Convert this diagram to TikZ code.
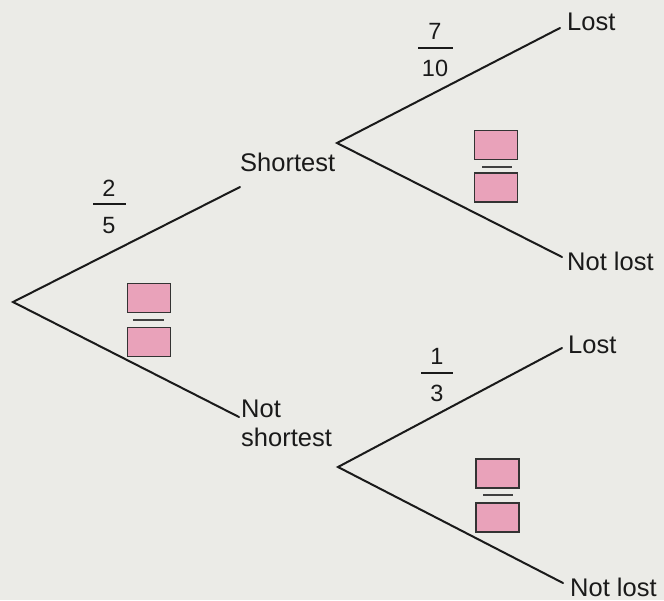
\documentclass[tikz,border=0pt]{standalone}
\usepackage{fontspec}
\setmainfont{Liberation Sans}
\definecolor{paper}{HTML}{EBEBE7}
\definecolor{ink}{HTML}{1A1A1A}
\definecolor{answerpink}{HTML}{E9A2BA}
\begin{document}
\begin{tikzpicture}[x=1pt,y=-1pt,
  branch/.style={draw=ink, line width=2pt, line cap=round},
  lbl/.style={inner sep=0pt, anchor=base west, text=ink,
              font=\fontsize{25.5}{29}\selectfont},
  digit/.style={inner sep=0pt, text=ink, font=\fontsize{23.5}{26}\selectfont},
  fracbar/.style={draw=ink, line width=2pt},
  ansbox/.style={draw=black!80, line width=1.8pt, fill=answerpink,
                 minimum width=43pt, minimum height=29pt, inner sep=0pt},
  ansbar/.style={draw=black!75, line width=2.2pt}]

% paper background and page size
\fill[paper] (0,0) rectangle (664,600);
\useasboundingbox (0,0) rectangle (664,600);

% branch points and free ends of the branches
\coordinate (root) at (13,302);
\coordinate (sEnd) at (240,187);
\coordinate (nsEnd) at (239,417);
\coordinate (sFork) at (337,143);
\coordinate (nsFork) at (338,467);
\coordinate (sLostEnd) at (560,28);
\coordinate (sNotEnd) at (562,257);
\coordinate (nsLostEnd) at (562,348);
\coordinate (nsNotEnd) at (563,583);

% first stage
\draw[branch] (sEnd) -- (root) -- (nsEnd);
% second stage
\draw[branch] (sLostEnd) -- (sFork) -- (sNotEnd);
\draw[branch] (nsLostEnd) -- (nsFork) -- (nsNotEnd);

% outcome labels
\node[lbl] (shortest) at (240,171) {Shortest};
\node[lbl] (notA) at (241,417) {Not};
\node[lbl] (notB) at (241,446) {shortest};
\node[lbl] (lost1) at (567,30) {Lost};
\node[lbl] (notlost1) at (567,270) {Not lost};
\node[lbl] (lost2) at (568,353) {Lost};
\node[lbl] (notlost2) at (570,596) {Not lost};

% given probabilities
\node[digit] (p25n) at (109,188.5) {2};
\draw[fracbar] (93,204) -- (126,204);
\node[digit] (p25d) at (109,226) {5};

\node[digit] (p710n) at (435,31.5) {7};
\draw[fracbar] (418,48) -- (453,48);
\node[digit] (p710d) at (435,68) {10};

\node[digit] (p13n) at (437,356.5) {1};
\draw[fracbar] (421,373) -- (453,373);
\node[digit] (p13d) at (437,393) {3};

% answer boxes to be filled in
\node[ansbox] (a1top) at (149,298) {};
\draw[ansbar] (133,320) -- (164,320);
\node[ansbox] (a1bot) at (149,342) {};

\node[ansbox] (a2top) at (496,145) {};
\draw[ansbar] (482,167) -- (512,167);
\node[ansbox] (a2bot) at (496,187.5) {};

\node[ansbox] (a3top) at (497.5,473.5) {};
\draw[ansbar] (483,495) -- (513,495);
\node[ansbox] (a3bot) at (497.5,517.5) {};
\end{tikzpicture}
\end{document}
